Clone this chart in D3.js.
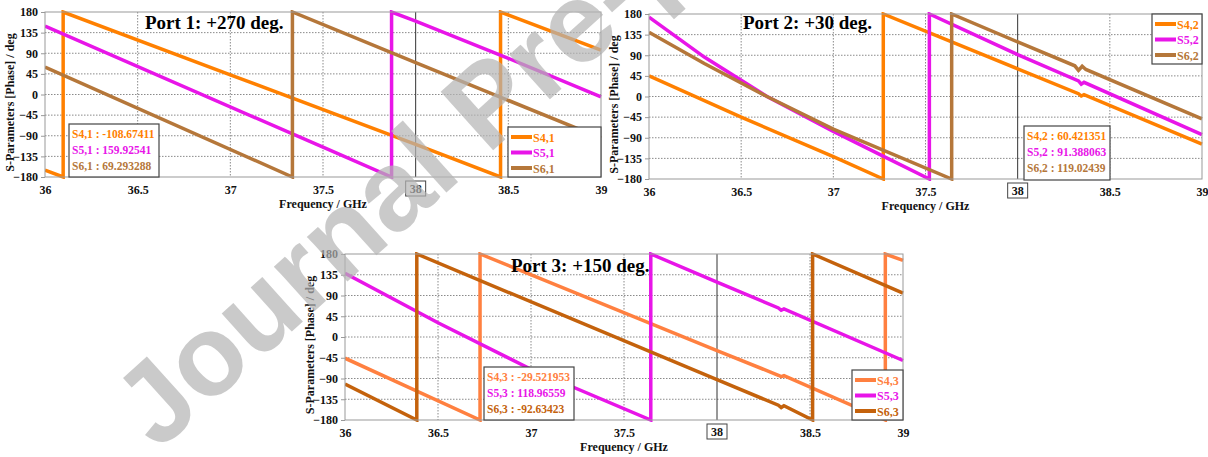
<!DOCTYPE html>
<html>
<head>
<meta charset="utf-8">
<script src="https://cdn.jsdelivr.net/npm/d3@7"></script>
<style>
  body { margin: 0; background: #fff; }
  text { font-family: "Liberation Serif", "Times New Roman", serif; font-weight: bold; }
</style>
</head>
<body>
<div id="chart"></div>
<script>
// axis ticks
const freqTicks = [36, 36.5, 37, 37.5, 38, 38.5, 39];
const phaseTicks = [-180, -135, -90, -45, 0, 45, 90, 135, 180];
const markerFreq = 38;

// Port 1 phases [GHz, deg]
const s41 = [[36, -165], [36.098, -180], [36.098, 180], [37, 43], [38, -108.7], [38.458, -180], [38.458, 180], [39, 97]];
const s51 = [[36, 149], [37.5, -115], [37.87, -180], [37.87, 180], [38, 159.9], [38.5, 79], [39, -5]];
const s61 = [[36, 60], [37.335, -180], [37.335, 180], [38, 69.3], [39, -95]];
const marker1 = [-108.67411, 159.92541, 69.293288];

// Port 2
const s42 = [[36, 45], [36.5, -45], [37, -131], [37.271, -180], [37.271, 180], [38, 60.4], [38.33, 6], [38.345, 1], [38.36, 4], [39, -104]];
const s52 = [[36, 173], [36.3, 86], [36.64, 0], [37, -76], [37.27, -130], [37.521, -180], [37.521, 180], [38, 91.4], [38.33, 34], [38.345, 27], [38.36, 31], [39, -83]];
const s62 = [[36, 140], [36.3, 72], [36.64, 0], [37, -71], [37.642, -180], [37.642, 180], [38, 119], [38.31, 67], [38.33, 57], [38.35, 66], [38.37, 59], [39, -49]];
const marker2 = [60.421351, 91.388063, 119.02439];

// Port 3
const s43 = [[36, -46], [36.726, -180], [36.726, 180], [38, -29.5], [38.33, -83], [38.345, -86], [38.36, -84], [38.905, -180], [38.905, 180], [39, 166]];
const s53 = [[36, 138], [36.5, 31], [37, -70], [37.644, -180], [37.644, 180], [38, 119], [38.33, 63], [38.345, 58], [38.36, 61], [39, -51]];
const s63 = [[36, -102], [36.386, -180], [36.386, 180], [38, -92.6], [38.33, -148], [38.345, -153], [38.36, -149], [38.514, -180], [38.514, 180], [39, 95]];
const marker3 = [-29.521953, 118.96559, -92.63423];

const names1 = ["S4,1", "S5,1", "S6,1"];
const names2 = ["S4,2", "S5,2", "S6,2"];
const names3 = ["S4,3", "S5,3", "S6,3"];

const colors12 = ["#ff8000", "#e815e8", "#b5773a"];
const colors3 = ["#ff8040", "#e815e8", "#c4620c"];

const width = 1208, height = 457;

const svg = d3.select("#chart")
    .append("svg")
    .attr("width", width)
    .attr("height", height);

svg.append("rect").attr("width", width).attr("height", height).attr("fill", "#fff");

const panels = [
    { id: 1, left: 45, right: 601, top: 12, bottom: 177, title: "Port 1: +270 deg.", titleX: 145, titleY: 29,
      names: names1, series: [s41, s51, s61], marker: marker1, colors: colors12,
      box: [69, 124, 90, 53], legend: [508, 127], ylabX: 14 },
    { id: 2, left: 649, right: 1202, top: 14, bottom: 179, title: "Port 2: +30 deg.", titleX: 743, titleY: 29,
      names: names2, series: [s42, s52, s62], marker: marker2, colors: colors12,
      box: [1024, 126, 86, 54], legend: [1152, 14], ylabX: 618 },
    { id: 3, left: 345, right: 903, top: 254, bottom: 420, title: "Port 3: +150 deg.", titleX: 511, titleY: 272,
      names: names3, series: [s43, s53, s63], marker: marker3, colors: colors3,
      box: [484, 367, 90, 53], legend: [852, 370], ylabX: 314 }
];

panels.forEach(p => drawPanel(p));

function drawPanel(p) {
    const x = d3.scaleLinear().domain([36, 39]).range([p.left, p.right]);
    const y = d3.scaleLinear().domain([-180, 180]).range([p.bottom, p.top]);
    const g = svg.append("g");

    // grid
    g.selectAll(".vgrid")
        .data(freqTicks.filter(f => f > 36 && f < 39 && f !== markerFreq))
        .join("line")
        .attr("x1", d => x(d)).attr("x2", d => x(d))
        .attr("y1", p.top).attr("y2", p.bottom)
        .attr("stroke", "#8a8a8a").attr("stroke-width", 1).attr("stroke-dasharray", "1.5,1.5");
    g.selectAll(".hgrid")
        .data(phaseTicks.filter(v => v > -180 && v < 180))
        .join("line")
        .attr("x1", p.left).attr("x2", p.right)
        .attr("y1", d => y(d)).attr("y2", d => y(d))
        .attr("stroke", "#8a8a8a").attr("stroke-width", 1).attr("stroke-dasharray", "1.5,1.5");

    // marker line
    g.append("line")
        .attr("x1", x(markerFreq)).attr("x2", x(markerFreq))
        .attr("y1", p.top).attr("y2", p.bottom)
        .attr("stroke", "#333").attr("stroke-width", 1);

    // axes
    const yAxis = g.append("g")
        .attr("transform", `translate(${p.left},0)`)
        .call(d3.axisLeft(y).tickValues(phaseTicks).tickSize(4).tickPadding(3));
    yAxis.select(".domain").remove();
    yAxis.selectAll("line").attr("stroke", "#999");
    yAxis.selectAll("text").attr("font-size", 12).attr("fill", "#111")
        .style("font-family", "'Liberation Serif', serif").style("font-weight", "bold");

    const xAxis = g.append("g")
        .attr("transform", `translate(0,${p.bottom})`)
        .call(d3.axisBottom(x).tickValues(freqTicks).tickFormat(d => d).tickSize(0).tickPadding(8));
    xAxis.select(".domain").remove();
    xAxis.selectAll("text").attr("font-size", 12).attr("fill", "#111")
        .style("font-family", "'Liberation Serif', serif").style("font-weight", "bold");

    // boxed marker tick label
    const mx = x(markerFreq);
    g.append("rect")
        .attr("x", mx - 10).attr("y", p.bottom + 4)
        .attr("width", 20).attr("height", 15)
        .attr("fill", "#fff").attr("stroke", "#444").attr("stroke-width", 1);
    g.append("text")
        .attr("x", mx).attr("y", p.bottom + 16)
        .attr("text-anchor", "middle").attr("font-size", 12).attr("fill", "#111")
        .text(markerFreq);

    // axis titles
    g.append("text")
        .attr("x", (p.left + p.right) / 2).attr("y", p.bottom + 31)
        .attr("text-anchor", "middle").attr("font-size", 12).attr("fill", "#111")
        .text("Frequency / GHz");
    g.append("text")
        .attr("transform", `translate(${p.ylabX},${(p.top + p.bottom) / 2 + 8}) rotate(-90)`)
        .attr("text-anchor", "middle").attr("font-size", 12).attr("fill", "#111")
        .text("S-Parameters [Phase] / deg");

    // series
    const clipId = "clip" + p.id;
    g.append("clipPath").attr("id", clipId)
        .append("rect")
        .attr("x", p.left).attr("y", p.top - 2)
        .attr("width", p.right - p.left + 2).attr("height", p.bottom - p.top + 4);

    const line = d3.line().x(d => x(d[0])).y(d => y(d[1]));
    g.append("g").attr("clip-path", `url(#${clipId})`)
        .selectAll("path")
        .data(p.series)
        .join("path")
        .attr("d", line)
        .attr("fill", "none")
        .attr("stroke", (d, i) => p.colors[i])
        .attr("stroke-width", 3.5)
        .attr("stroke-linejoin", "miter");

    // plot border
    g.append("rect")
        .attr("x", p.left).attr("y", p.top)
        .attr("width", p.right - p.left).attr("height", p.bottom - p.top)
        .attr("fill", "none").attr("stroke", "#999").attr("stroke-width", 1);

    // title
    g.append("text")
        .attr("x", p.titleX).attr("y", p.titleY)
        .attr("font-size", 19).attr("fill", "#000")
        .text(p.title);

    // marker readout box
    const [bx, by, bw, bh] = p.box;
    g.append("rect")
        .attr("x", bx).attr("y", by).attr("width", bw).attr("height", bh)
        .attr("fill", "#fff").attr("stroke", "#444").attr("stroke-width", 1.2);
    g.selectAll(".mk")
        .data(p.marker)
        .join("text")
        .attr("x", bx + 3)
        .attr("y", (d, i) => by + 14 + i * 16)
        .attr("font-size", 11.5)
        .attr("fill", (d, i) => p.colors[i])
        .text((d, i) => `${p.names[i]} : ${d}`);

    // legend
    const [lx, ly] = p.legend;
    g.append("rect")
        .attr("x", lx).attr("y", ly).attr("width", p.right - lx).attr("height", 50)
        .attr("fill", "#fff").attr("stroke", "#444").attr("stroke-width", 1.2);
    const items = g.selectAll(".lg")
        .data(p.names)
        .join("g")
        .attr("transform", (d, i) => `translate(${lx + 3},${ly + 10 + i * 15.5})`);
    items.append("line")
        .attr("x1", 0).attr("x2", 21)
        .attr("stroke", (d, i) => p.colors[i]).attr("stroke-width", 4);
    items.append("text")
        .attr("x", 22).attr("y", 4.5)
        .attr("font-size", 12)
        .attr("fill", (d, i) => p.colors[i])
        .text(d => d);
}

// journal watermark on top
svg.append("text")
    .attr("transform", "translate(158,452) rotate(-42)")
    .attr("font-size", 114)
    .style("font-family", "'Liberation Sans', Arial, sans-serif")
    .style("font-weight", "bold")
    .attr("fill", "#b4b4b4")
    .attr("fill-opacity", 0.7)
    .text("Journal Pre-proof");
</script>
</body>
</html>
